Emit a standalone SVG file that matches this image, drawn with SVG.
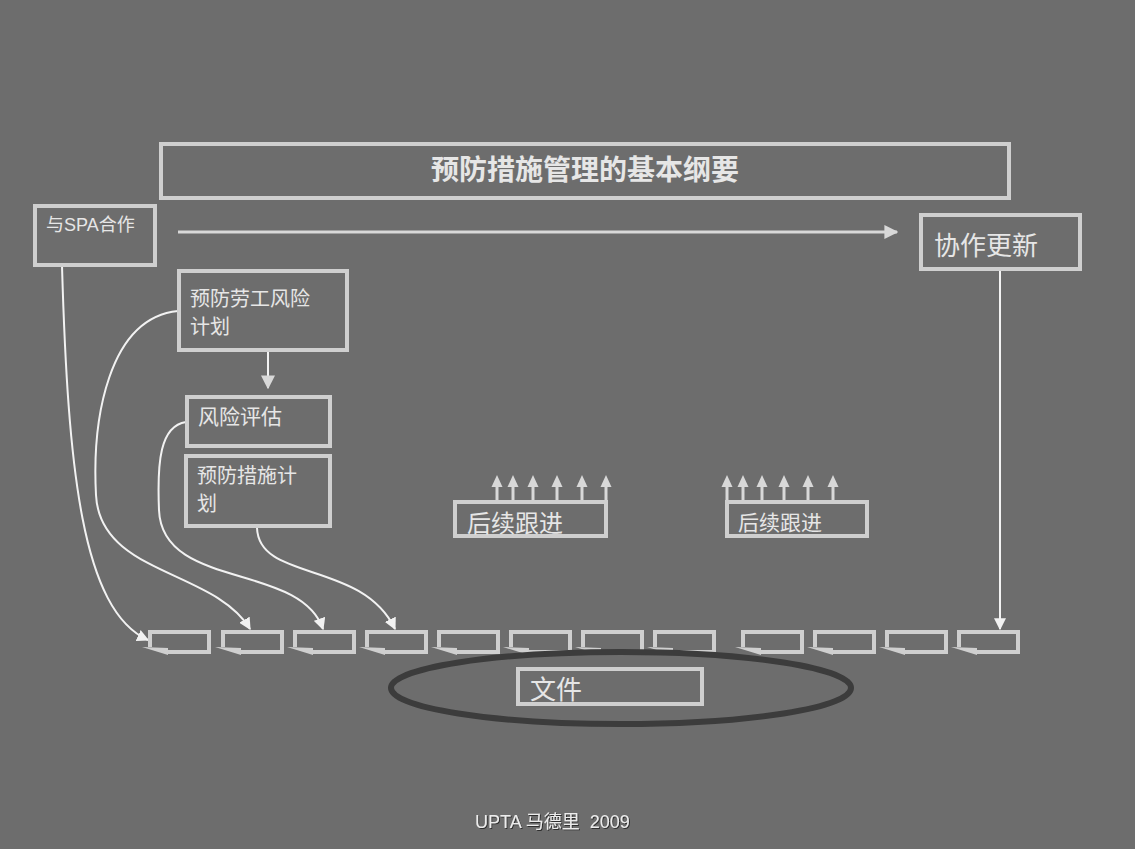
<svg xmlns="http://www.w3.org/2000/svg" xmlns:xlink="http://www.w3.org/1999/xlink" width="1135" height="849" viewBox="0 0 1135 849">
<style>
.box{fill:none;stroke:#cfcfcf;stroke-width:4}
.t{font-family:"Noto Sans CJK SC","Liberation Sans",sans-serif;fill:#e6e6e6}
.con{fill:none;stroke:#f2f2f2;stroke-width:2}
.up{stroke:#d8d8d8;stroke-width:3;fill:none}
</style>
<defs>
<filter id="sh" x="-10%" y="-30%" width="120%" height="160%">
<feDropShadow dx="1" dy="1" stdDeviation="0.6" flood-color="#2a2a2a" flood-opacity="0.9"/>
</filter>
<marker id="ah" viewBox="0 0 10 10" refX="9" refY="5" markerWidth="12" markerHeight="12" markerUnits="userSpaceOnUse" orient="auto">
<path d="M0,0 L10,5 L0,10 Z" fill="#f2f2f2"/>
</marker>
<marker id="ah2" viewBox="0 0 10 10" refX="9" refY="5" markerWidth="14" markerHeight="14" markerUnits="userSpaceOnUse" orient="auto">
<path d="M0,0 L10,5 L0,10 Z" fill="#d8d8d8"/>
</marker>
<g id="doc">
<path d="M0,15 V0 H59 V20 H18" fill="none" stroke="#cfcfcf" stroke-width="4"/>
<path d="M-8,15 L18,16 L18,23 Z" fill="#cfcfcf"/>
</g>
<g id="uparr">
<line x1="0" y1="500" x2="0" y2="485" class="up"/>
<path d="M-5.5,487 L0,475 L5.5,487 Z" fill="#d8d8d8"/>
</g>
</defs>
<rect width="1135" height="849" fill="#6d6d6d"/>

<g id="connectors">
<line x1="178" y1="232" x2="897" y2="232" stroke="#d8d8d8" stroke-width="3" marker-end="url(#ah2)"/>
<path class="con" d="M1000,270 V629" marker-end="url(#ah)"/>
<path class="con" d="M268,351 V388" stroke="#d8d8d8" stroke-width="3" marker-end="url(#ah2)"/>
<path class="con" d="M62,266 C68,470 82,610 148,640" marker-end="url(#ah)"/>
<path class="con" d="M178,311 C108,318 92,420 96,495 C100,575 215,570 250,629" marker-end="url(#ah)"/>
<path class="con" d="M186,422 C160,426 157,462 159,510 C162,590 300,562 323,629" marker-end="url(#ah)"/>
<path class="con" d="M257,528 C259,582 362,560 395,629" marker-end="url(#ah)"/>
</g>

<g id="title">
<rect class="box" x="161" y="144" width="848" height="54"/>
<text class="t" x="585" y="180" font-size="28" font-weight="bold" text-anchor="middle" fill="#f4f4f4">预防措施管理的基本纲要</text>
</g>

<g id="spa">
<rect class="box" x="35" y="206" width="120" height="59"/>
<text class="t" x="46" y="231" font-size="18">与<tspan font-family="Liberation Sans, sans-serif">SPA</tspan>合作</text>
</g>

<g id="update">
<rect class="box" x="921" y="215" width="159" height="54"/>
<text class="t" x="934" y="255" font-size="26">协作更新</text>
</g>

<g id="plan">
<rect class="box" x="179" y="271" width="168" height="79"/>
<text class="t" font-size="20"><tspan x="190" y="306">预防劳工风险</tspan><tspan x="190" y="334">计划</tspan></text>
</g>

<g id="risk">
<rect class="box" x="187" y="397" width="143" height="49"/>
<text class="t" x="198" y="424" font-size="21">风险评估</text>
</g>

<g id="measures">
<rect class="box" x="186" y="456" width="144" height="70"/>
<text class="t" font-size="20"><tspan x="197" y="483">预防措施计</tspan><tspan x="197" y="511">划</tspan></text>
</g>

<g id="follow1">
<rect class="box" x="455" y="502" width="151" height="34"/>
<use xlink:href="#uparr" x="497"/>
<use xlink:href="#uparr" x="513"/>
<use xlink:href="#uparr" x="533"/>
<use xlink:href="#uparr" x="557"/>
<use xlink:href="#uparr" x="582"/>
<use xlink:href="#uparr" x="606"/>
<text class="t" x="467" y="532" font-size="24">后续跟进</text>
</g>

<g id="follow2">
<rect class="box" x="727" y="502" width="140" height="34"/>
<use xlink:href="#uparr" x="727"/>
<use xlink:href="#uparr" x="743"/>
<use xlink:href="#uparr" x="762"/>
<use xlink:href="#uparr" x="784"/>
<use xlink:href="#uparr" x="808"/>
<use xlink:href="#uparr" x="833"/>
<text class="t" x="738" y="530" font-size="21">后续跟进</text>
</g>

<g id="docs">
<use xlink:href="#doc" x="150" y="632"/>
<use xlink:href="#doc" x="223" y="632"/>
<use xlink:href="#doc" x="295" y="632"/>
<use xlink:href="#doc" x="367" y="632"/>
<use xlink:href="#doc" x="439" y="632"/>
<use xlink:href="#doc" x="511" y="632"/>
<use xlink:href="#doc" x="583" y="632"/>
<use xlink:href="#doc" x="655" y="632"/>
<use xlink:href="#doc" x="743" y="632"/>
<use xlink:href="#doc" x="815" y="632"/>
<use xlink:href="#doc" x="887" y="632"/>
<use xlink:href="#doc" x="959" y="632"/>
</g>

<g id="files">
<ellipse cx="621" cy="688" rx="230" ry="36" fill="none" stroke="#3c3c3c" stroke-width="6"/>
<rect class="box" x="518" y="669" width="184" height="35"/>
<text class="t" x="530" y="699" font-size="26">文件</text>
</g>

<g id="footer">
<text x="475" y="828" font-size="18" font-family="Liberation Sans, Noto Sans CJK SC, sans-serif" fill="#ececec" filter="url(#sh)" xml:space="preserve">UPTA 马德里  2009</text>
</g>
</svg>
